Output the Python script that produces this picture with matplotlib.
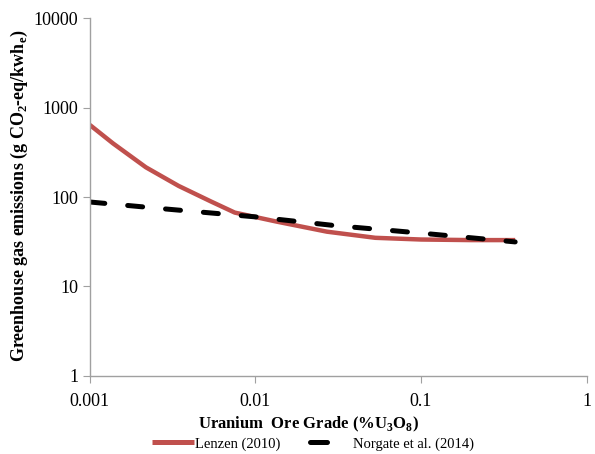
import matplotlib
matplotlib.use('Agg')
import matplotlib.pyplot as plt
from matplotlib.lines import Line2D
from matplotlib.ticker import FixedLocator, FixedFormatter, NullLocator

# data
lenzen_grade = [0.001, 0.00138, 0.00218, 0.00344, 0.0054, 0.0075, 0.0135, 0.027,
                0.053, 0.1, 0.2, 0.37]
lenzen_ghg = [640, 398, 215, 133, 89, 67, 53, 41, 35, 33.5, 33, 33]

norgate_grade = [0.001, 0.003, 0.01, 0.03, 0.1, 0.37]
norgate_ghg = [88, 73, 60, 48, 39.5, 31.5]

x_ticks = [0.001, 0.01, 0.1, 1]
x_labels = ['0.001', '0.01', '0.1', '1']
y_ticks = [1, 10, 100, 1000, 10000]
y_labels = ['1', '10', '100', '1000', '10000']

plt.rcParams['font.family'] = ['Liberation Serif', 'DejaVu Serif']
plt.rcParams['mathtext.fontset'] = 'custom'
plt.rcParams['mathtext.rm'] = 'Liberation Serif'
plt.rcParams['mathtext.bf'] = 'Liberation Serif:bold'

fig = plt.figure(figsize=(5.95, 4.54), dpi=100)
ax = fig.add_axes([0.151, 0.172, 0.835, 0.788])

red = '#C0504D'
ax.plot(lenzen_grade, lenzen_ghg, color=red, lw=3.2, solid_capstyle='butt')
ax.plot(norgate_grade, norgate_ghg, color='black', lw=3.6, dashes=(3.0, 4.6),
        dash_capstyle='round')

ax.set_xscale('log')
ax.set_yscale('log')
ax.set_xlim(0.001, 1)
ax.set_ylim(1, 10000)
ax.xaxis.set_major_locator(FixedLocator(x_ticks))
ax.xaxis.set_major_formatter(FixedFormatter(x_labels))
ax.yaxis.set_major_locator(FixedLocator(y_ticks))
ax.yaxis.set_major_formatter(FixedFormatter(y_labels))
ax.xaxis.set_minor_locator(NullLocator())
ax.yaxis.set_minor_locator(NullLocator())

for s in ['top', 'right']:
    ax.spines[s].set_visible(False)
for s in ['left', 'bottom']:
    ax.spines[s].set_color('#A0A0A0')
    ax.spines[s].set_linewidth(1)
ax.tick_params(direction='out', length=5, color='#A0A0A0', labelsize=13)
ax.tick_params(axis='x', pad=7)

ax.set_xlabel(r'Uranium  Ore Grade (%U$_\mathbf{3}$O$_\mathbf{8}$)', fontsize=12,
              fontweight='bold')
ax.xaxis.set_label_coords(0.44, -0.108)
ax.set_ylabel(r'Greenhouse gas emissions (g CO$_\mathbf{2}$-eq/kwh$_\mathbf{e}$)',
              fontsize=13, fontweight='bold')
ax.yaxis.set_label_coords(-0.12, 0.505)

# legend proxies (black one shows a single dash like the reference)
handles = [Line2D([], [], color=red, lw=3.6, solid_capstyle='butt'),
           Line2D([], [], color='black', lw=3.6, dashes=(3.4, 9), dash_capstyle='round')]
ax.legend(handles, ['Lenzen (2010)', 'Norgate et al. (2014)'], loc='center',
          bbox_to_anchor=(0.449, -0.19), ncol=2, frameon=False, fontsize=10.5,
          handlelength=2.9, handletextpad=0.05, columnspacing=2.0,
          borderpad=0.1)

plt.savefig('out.png', dpi=100)
